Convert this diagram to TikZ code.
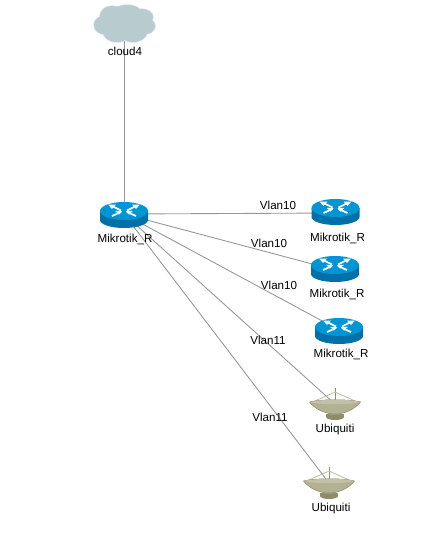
\documentclass[tikz,border=0pt]{standalone}
\usepackage{fontspec}
\setmainfont{Liberation Sans}
\usetikzlibrary{positioning,backgrounds}
\definecolor{routertop}{RGB}{0,150,214}
\definecolor{routerside}{RGB}{0,112,168}
\definecolor{dishfill}{RGB}{178,178,146}
\definecolor{dishdark}{RGB}{140,140,105}
\definecolor{cloudfill}{RGB}{184,204,208}
\definecolor{cloudedge}{RGB}{214,226,228}
\definecolor{linkgray}{RGB}{150,150,150}
\tikzset{
  spot/.style={inner sep=0pt, minimum size=0pt},
  devlabel/.style={inner sep=0pt, font=\fontsize{6.6pt}{7pt}\selectfont, text height=0.16cm, text depth=0.03cm},
  vlanlabel/.style={inner sep=0pt, font=\fontsize{6.6pt}{7pt}\selectfont},
  link/.style={draw=linkgray, line width=0.5pt},
  routericon/.pic={
    \fill[routerside] (-24,-3) -- (-24,6) arc[start angle=180, end angle=0, x radius=24, y radius=8] -- (24,-3) -- cycle;
    \fill[routertop] (0,-3) circle[x radius=24, y radius=9];
    \foreach \sx in {-1,1} {
      \draw[white, line width=1pt] (\sx*3,-3.5) -- (\sx*12,-8);
      \draw[white, line width=1pt] (\sx*3,-2) -- (\sx*12,2);
      \fill[white] (\sx*16,-9.5) -- (\sx*8,-9.5) -- (\sx*12,-5) -- cycle;
      \fill[white] (\sx*2,-2.8) -- (\sx*9,-3.2) -- (\sx*5,0.5) -- cycle;
    }
  },
  dishicon/.pic={
    \draw[dishdark, line width=0.5pt] (0,-16) -- (0,-2);
    \draw[dishfill!80!white, line width=0.5pt] (-20,-3) -- (0,-12) -- (20,-3);
    \fill[dishdark] (-9,10) rectangle (9,13);
    \fill[dishdark] (-9,13) arc[start angle=180, end angle=0, x radius=9, y radius=3] -- cycle;
    \fill[dishdark!85!white] (-6,6) rectangle (6,11);
    \fill[dishfill, draw=dishdark, line width=0.3pt] (-25.5,-2) .. controls (-20,5) and (-10,10) .. (0,10) .. controls (10,10) and (20,5) .. (25.5,-2) .. controls (15,-5) and (-15,-5) .. (-25.5,-2) -- cycle;
    \fill[dishfill!80!white] (-25,-2) .. controls (-15,-5) and (15,-5) .. (25,-2) .. controls (15,1) and (-15,1) .. (-25,-2) -- cycle;
  },
  cloudicon/.pic={
    \foreach \px/\py/\rx/\ry in {-20/1/10/9, -12/-8/12/10, 3/-10/15/9, 17/-7/12/8, 21/2/10/8, 9/8/14/10, -7/8/14/10, 0/0/22/12} {
      \draw[cloudedge, line width=0.8pt] (\px,\py) circle[x radius=\rx, y radius=\ry];
    }
    \foreach \px/\py/\rx/\ry in {-20/1/10/9, -12/-8/12/10, 3/-10/15/9, 17/-7/12/8, 21/2/10/8, 9/8/14/10, -7/8/14/10, 0/0/22/12} {
      \fill[cloudfill] (\px,\py) circle[x radius=\rx, y radius=\ry];
    }
  }
}
\begin{document}
\begin{tikzpicture}[x=0.02cm, y=-0.02cm]
  \useasboundingbox (0,0) rectangle (438,555);
  % devices
  \node[spot] (cloud) at (124,24) {};
  \node[spot] (main) at (124,214) {};
  \node[spot] (routerA) at (335.5,213) {};
  \node[spot] (routerB) at (335,270) {};
  \node[spot] (routerC) at (339,330) {};
  \node[spot] (dishA) at (335,404) {};
  \node[spot] (dishB) at (329,483) {};
  \pic at (cloud) {cloudicon};
  \pic at (main) {routericon};
  \pic at ([yshift=0.04cm]routerA) {routericon};
  \pic at ([yshift=0.04cm]routerB) {routericon};
  \pic at (routerC) {routericon};
  \pic at (dishA) {dishicon};
  \pic at (dishB) {dishicon};
  % links
  \begin{scope}[on background layer]
    \draw[link] (cloud) -- (main);
    \draw[link] (main) -- (routerA);
    \draw[link] (main) -- (routerB);
    \draw[link] (main) -- (routerC);
    \draw[link] (main) -- (dishA);
    \draw[link] (main) -- (dishB);
  \end{scope}
  % names
  \node[devlabel, below=0.46cm of cloud, xshift=0.02cm] (cloudname) {cloud4};
  \node[devlabel, below=0.39cm of main, xshift=0.02cm] (mainname) {Mikrotik\_R};
  \node[devlabel, below=0.39cm of routerA, xshift=0.04cm] (routerAname) {Mikrotik\_R};
  \node[devlabel, below=0.37cm of routerB, xshift=0.04cm] (routerBname) {Mikrotik\_R};
  \node[devlabel, below=0.37cm of routerC, xshift=0.04cm] (routerCname) {Mikrotik\_R};
  \node[devlabel, below=0.39cm of dishA] (dishAname) {Ubiquiti};
  \node[devlabel, below=0.39cm of dishB, xshift=0.04cm] (dishBname) {Ubiquiti};
  \node[vlanlabel] (vlanA) at (278,205) {Vlan10};
  \node[vlanlabel] (vlanB) at (269,243) {Vlan10};
  \node[vlanlabel] (vlanC) at (279,285) {Vlan10};
  \node[vlanlabel] (vlanD) at (268,340) {Vlan11};
  \node[vlanlabel] (vlanE) at (270,417) {Vlan11};
\end{tikzpicture}
\end{document}
